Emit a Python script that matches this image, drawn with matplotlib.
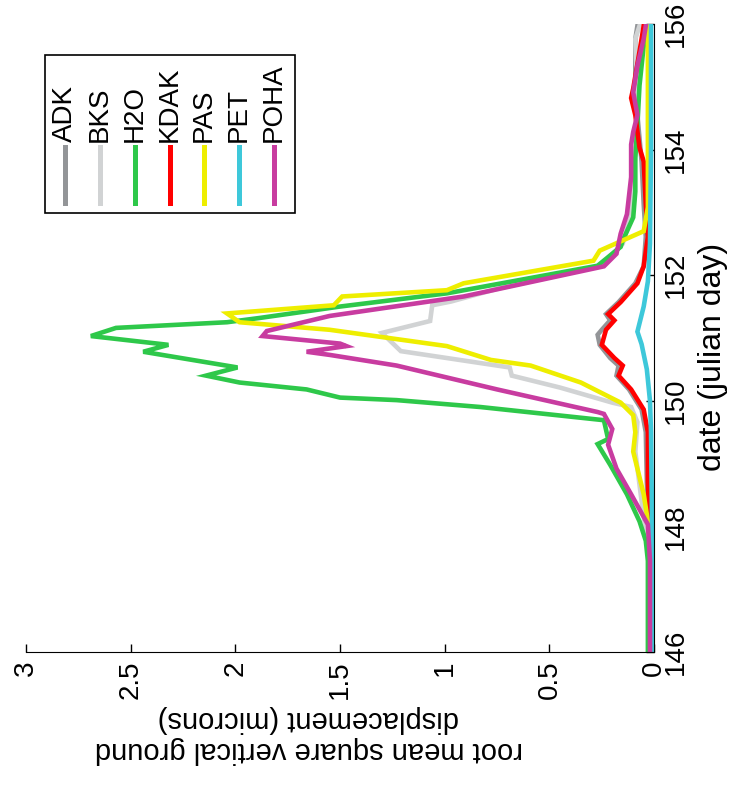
import numpy as np
import matplotlib
matplotlib.use('Agg')
import matplotlib.pyplot as plt
from matplotlib.lines import Line2D
from matplotlib.patches import Rectangle

plt.rcParams['font.family'] = ['Liberation Sans', 'DejaVu Sans']

# station names and colours
stations = ['ADK', 'BKS', 'H2O', 'KDAK', 'PAS', 'PET', 'POHA']
colors = ['#939598', '#d1d3d4', '#2ec84a', '#ff0000', '#eeee00', '#3ec8da', '#c83ca0']

# date (julian day) / rms displacement (microns)
adk_day = [146.03, 147.45, 148.71, 149.50, 149.86, 150.18, 150.40, 150.56, 150.68, 150.89,
           151.05, 151.13, 151.28, 151.38, 151.57, 151.87, 152.14, 152.61, 153.13, 153.81,
           154.55, 154.97, 155.76, 155.97]
adk_rms = [0.015, 0.02, 0.035, 0.04, 0.06, 0.12, 0.18, 0.17, 0.21, 0.26,
           0.27, 0.25, 0.21, 0.23, 0.17, 0.09, 0.05, 0.04, 0.05, 0.06,
           0.08, 0.09, 0.09, 0.08]

bks_day = [146.03, 147.45, 148.40, 149.19, 149.66, 149.90, 149.97, 150.21, 150.40, 150.53,
           150.79, 151.08, 151.27, 151.52, 151.58, 151.79, 152.14, 152.50, 152.97, 153.92,
           154.86, 155.76, 155.97]
bks_rms = [0.02, 0.02, 0.06, 0.09, 0.08, 0.11, 0.20, 0.45, 0.68, 0.69,
           1.21, 1.30, 1.07, 1.06, 0.97, 0.74, 0.26, 0.15, 0.11, 0.09,
           0.08, 0.09, 0.07]

h2o_day = [146.03, 146.82, 147.45, 147.77, 148.08, 148.51, 148.98, 149.31, 149.39, 149.69,
           149.90, 150.01, 150.05, 150.18, 150.29, 150.40, 150.53, 150.78, 150.89, 151.03,
           151.16, 151.25, 151.32, 151.50, 151.71, 152.15, 152.45, 152.55, 152.92, 153.33,
           153.87, 154.39, 155.02, 155.65, 155.97]
h2o_rms = [0.03, 0.03, 0.03, 0.04, 0.07, 0.13, 0.21, 0.27, 0.22, 0.24,
           0.83, 1.23, 1.50, 1.66, 1.98, 2.14, 1.99, 2.44, 2.32, 2.69,
           2.57, 2.04, 1.88, 1.50, 0.99, 0.27, 0.16, 0.15, 0.10, 0.09,
           0.09, 0.08, 0.07, 0.05, 0.04]

kdak_day = [146.03, 147.45, 148.71, 149.50, 149.86, 150.18, 150.40, 150.56, 150.68, 150.89,
            151.13, 151.28, 151.38, 151.57, 151.87, 152.14, 152.61, 153.13, 153.81, 154.03,
            154.55, 154.82, 154.97, 155.76, 155.97]
kdak_rms = [0.01, 0.015, 0.03, 0.03, 0.05, 0.11, 0.17, 0.15, 0.19, 0.25,
            0.23, 0.19, 0.22, 0.16, 0.08, 0.05, 0.03, 0.04, 0.05, 0.07,
            0.09, 0.11, 0.10, 0.06, 0.05]

pas_day = [146.03, 147.45, 148.08, 148.51, 149.19, 149.50, 149.77, 149.97, 150.29, 150.56,
           150.65, 150.87, 151.13, 151.25, 151.39, 151.52, 151.66, 151.76, 151.87, 152.23,
           152.39, 152.70, 153.08, 154.39, 155.97]
pas_rms = [0.01, 0.01, 0.03, 0.05, 0.10, 0.09, 0.10, 0.16, 0.35, 0.59,
           0.78, 0.99, 1.55, 1.98, 2.04, 1.53, 1.49, 0.99, 0.91, 0.29,
           0.26, 0.05, 0.03, 0.03, 0.03]

pet_day = [146.03, 148.0, 149.5, 150.0, 150.5, 150.9, 151.1, 151.5, 151.9, 152.5, 154.0, 155.97]
pet_rms = [0.01, 0.01, 0.015, 0.02, 0.035, 0.06, 0.08, 0.05, 0.03, 0.02, 0.015, 0.015]

poha_day = [146.03, 146.82, 147.45, 148.03, 148.51, 148.92, 149.30, 149.55, 149.79, 149.82,
            150.18, 150.56, 150.73, 150.78, 150.87, 150.91, 151.03, 151.11, 151.35, 151.66,
            152.14, 152.34, 152.66, 152.97, 153.56, 154.08, 154.28, 154.55, 154.91, 155.34,
            155.76, 155.97]
poha_rms = [0.02, 0.02, 0.02, 0.03, 0.11, 0.18, 0.22, 0.20, 0.24, 0.27,
            0.75, 1.23, 1.55, 1.66, 1.47, 1.50, 1.87, 1.85, 1.55, 0.91,
            0.24, 0.18, 0.16, 0.13, 0.11, 0.11, 0.10, 0.08, 0.10, 0.08,
            0.05, 0.04]

days = [adk_day, bks_day, h2o_day, kdak_day, pas_day, pet_day, poha_day]
rms = [adk_rms, bks_rms, h2o_rms, kdak_rms, pas_rms, pet_rms, poha_rms]

# figure is the usual plot turned a quarter turn: rms along the bottom, date up the right
fig = plt.figure(figsize=(7.39, 7.87), dpi=100)
ax = fig.add_axes([0.0352, 0.1716, 0.85, 0.798])

for d, r, c in zip(days, rms, colors):
    ax.plot(r, d, color=c, lw=3.3, solid_joinstyle='miter')

ax.set_xlim(3, 0)
ax.set_ylim(146, 156)
ax.set_xticks([3, 2.5, 2, 1.5, 1, 0.5, 0])
ax.set_xticklabels(['3', '2.5', '2', '1.5', '1', '0.5', '0'], rotation=90, va='top')
ax.set_yticks([146, 148, 150, 152, 154, 156])
ax.yaxis.tick_right()
ax.yaxis.set_label_position('right')
for lab in ax.get_yticklabels():
    lab.set_rotation(90)
    lab.set_va('center')
ax.tick_params(direction='in', labelsize=20, length=6, width=1, pad=6)
for s in ['top', 'left']:
    ax.spines[s].set_visible(False)

ax.set_xlabel('root mean square vertical ground\ndisplacement (microns)',
              fontsize=21, rotation=180, linespacing=1.1)
ax.xaxis.set_label_coords(0.45, -0.085)
ax.xaxis.label.set_va('top')
ax.set_ylabel('date (julian day)', fontsize=23, rotation=90)
ax.yaxis.set_label_coords(1.07, 0.47)
ax.yaxis.label.set_ha('center')

# legend, built by hand since the entries are turned as well
fig.patches.append(Rectangle((0.0609, 0.729), 0.3383, 0.201, transform=fig.transFigure,
                             fill=False, edgecolor='black', lw=1.2))
leg_x = [65, 100, 135, 170, 204, 239, 274]
for px, name, c in zip(leg_x, stations, colors):
    fx = px / 739
    fig.lines.append(Line2D([fx, fx], [0.742, 0.813], transform=fig.transFigure,
                            color=c, lw=3.6))
    fig.text(fx, 0.820, name, rotation=90, ha='center', va='bottom', fontsize=20)

plt.savefig('out.png', dpi=100)
